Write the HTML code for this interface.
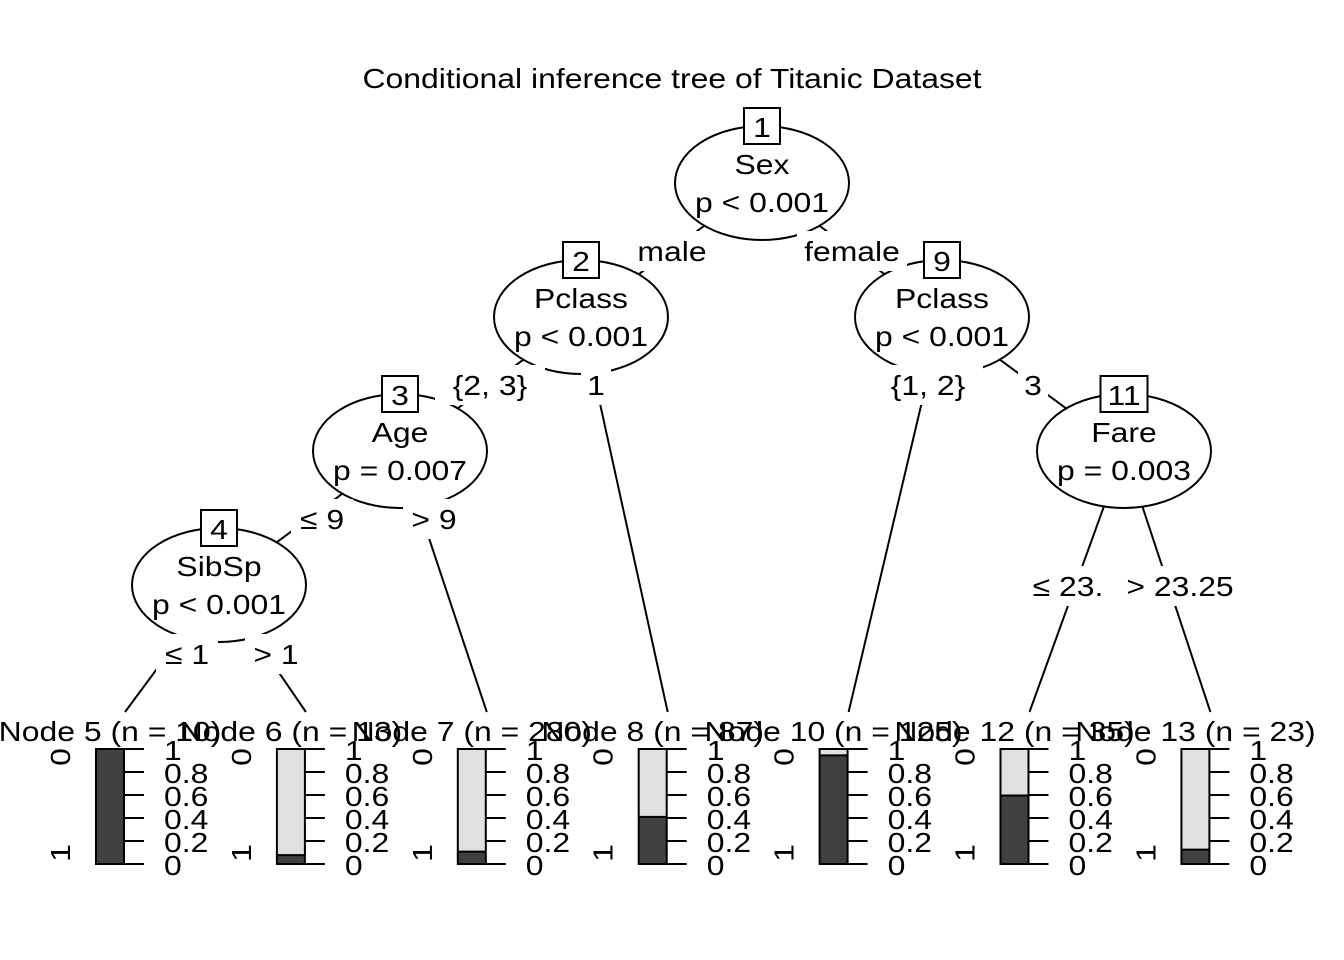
<!DOCTYPE html>
<html><head><meta charset="utf-8"><style>
body{margin:0;background:#fff}
svg{display:block;font-family:"Liberation Sans",Arial,sans-serif}
</style></head><body>
<svg id="c" width="1344" height="960" viewBox="0 0 1344 960">
<rect width="1344" height="960" fill="#fff"/>
<g id="titleg"></g>
<g id="edges" stroke="#000" stroke-width="2" fill="none"></g>
<g id="inner"></g>
<g id="elabels"></g>
<g id="terms"></g>
</svg>
<script>
const termIds = [5, 6, 7, 8, 10, 12, 13];
const termN = [10, 13, 280, 87, 125, 35, 23];
const termSurv = [1.0, 0.077, 0.108, 0.41, 0.945, 0.596, 0.125];
const tickLabels = ["0", "0.2", "0.4", "0.6", "0.8", "1"];
const tickVals = [0, 0.2, 0.4, 0.6, 0.8, 1];

const NS = "http://www.w3.org/2000/svg";
const SX = 1.14;
function mk(tag, attrs, parent) {
  const e = document.createElementNS(NS, tag);
  for (const k in attrs) e.setAttribute(k, attrs[k]);
  parent.appendChild(e);
  return e;
}
function txt(parent, x, y, s, anchor, extra) {
  const t = mk('text', {x: 0, y: 0, 'font-size': 28, 'text-anchor': anchor || 'middle',
    transform: 'translate(' + x + ',' + y + ') ' + (extra || 'scale(' + SX + ',1)')}, parent);
  t.textContent = s;
  return t;
}
const gE = document.getElementById('edges');
const gI = document.getElementById('inner');
const gL = document.getElementById('elabels');
const gT = document.getElementById('terms');

const title = txt(document.getElementById('titleg'), 672, 88, 'Conditional inference tree of Titanic Dataset');



const barTop = 749, barBot = 864, barW = 28;
const barX0 = 96, barStep = 180.9;
function yScale(v) { return barBot - v * (barBot - barTop); }
const termAnchor = {};
termIds.forEach((id, i) => { termAnchor[id] = [barX0 + i * barStep + barW + 1, 712]; });

const inner = [
  {id: 1, cx: 762, cy: 183, v: "Sex", p: "p < 0.001"},
  {id: 2, cx: 581, cy: 317, v: "Pclass", p: "p < 0.001"},
  {id: 9, cx: 942, cy: 317, v: "Pclass", p: "p < 0.001"},
  {id: 3, cx: 400, cy: 451, v: "Age", p: "p = 0.007"},
  {id: 11, cx: 1124, cy: 451, v: "Fare", p: "p = 0.003"},
  {id: 4, cx: 219, cy: 585, v: "SibSp", p: "p < 0.001"}
];
const pos = {};
inner.forEach(n => pos[n.id] = [n.cx, n.cy]);
Object.assign(pos, termAnchor);
const edges = [
  [1, 2, "male", 672, 251], [1, 9, "female", 852, 251],
  [2, 3, "{2, 3}", 490, 385], [2, 8, "1", 596, 385],
  [9, 10, "{1, 2}", 928, 385], [9, 11, "3", 1033, 385],
  [3, 4, "≤ 9", 322, 519], [3, 7, "> 9", 434, 519],
  [4, 5, "≤ 1", 187, 654], [4, 6, "> 1", 276, 654],
  [11, 12, "≤ 23.", 1068, 586], [11, 13, "> 23.25", 1180, 586]
];
edges.forEach(e => {
  const a = pos[e[0]], b = pos[e[1]];
  const l = mk('line', {x1: a[0], y1: a[1], x2: b[0], y2: b[1]}, gE);
  
  
  const w = e[2].length * 16 + 14;
  const r = mk('rect', {x: e[3] - w / 2, y: e[4] - 20, width: w, height: 40, fill: '#fff'}, gL);
  
  
  const t = txt(gL, e[3], e[4] + 10, e[2]);
  
  
});
inner.forEach(n => {
  const g = mk('g', {}, gI);
  
  
  mk('ellipse', {cx: n.cx, cy: n.cy, rx: 87, ry: 57, fill: '#fff', stroke: '#000', 'stroke-width': 2}, g);
  const bw = n.id > 9 ? 47 : 36;
  mk('rect', {x: n.cx - bw / 2, y: n.cy - 75, width: bw, height: 36, fill: '#fff', stroke: '#000', 'stroke-width': 2}, g);
  txt(g, n.cx, n.cy - 46, String(n.id));
  txt(g, n.cx, n.cy - 9, n.v);
  txt(g, n.cx, n.cy + 29, n.p);
});
termIds.forEach((id, i) => {
  const x = barX0 + i * barStep;
  const g = mk('g', {}, gT);
  
  
  txt(g, x + 14, 741, 'Node ' + id + ' (n = ' + termN[i] + ')');
  mk('rect', {x: x, y: barTop, width: barW, height: barBot - barTop, fill: '#e0e0e0'}, g);
  const b = mk('rect', {x: x, y: yScale(termSurv[i]), width: barW, height: barBot - yScale(termSurv[i]), fill: '#404040'}, g);
  
  
  mk('line', {x1: x, x2: x + barW, y1: yScale(termSurv[i]), y2: yScale(termSurv[i]), stroke: '#000', 'stroke-width': 2}, g);
  mk('rect', {x: x, y: barTop, width: barW, height: barBot - barTop, fill: 'none', stroke: '#000', 'stroke-width': 2}, g);
  tickVals.forEach((v, k) => {
    mk('line', {x1: x + barW, x2: x + barW + 20, y1: yScale(v), y2: yScale(v), stroke: '#000', 'stroke-width': 2}, g);
    txt(g, x + barW + 40, yScale(v) + 11, tickLabels[k], 'start');
  });
  txt(g, x - 26, barTop + 8, '0', 'middle', 'rotate(-90) scale(' + SX + ',1)');
  txt(g, x - 26, barBot - 11, '1', 'middle', 'rotate(-90) scale(' + SX + ',1)');
});
</script>
</body></html>
